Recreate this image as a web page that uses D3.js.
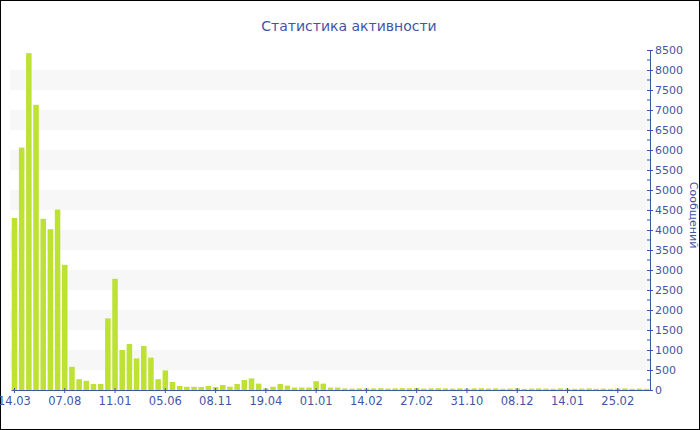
<!DOCTYPE html>
<html>
<head>
<meta charset="utf-8">
<script src="https://cdn.jsdelivr.net/npm/d3@7"></script>
<style>
  body { margin: 0; background: #fff; }
  text { font-family: "DejaVu Sans", Verdana, sans-serif; }
</style>
</head>
<body>
<script>
// bar values, one per period
const values = [4300, 6060, 8420, 7130, 4280, 4020, 4510, 3130, 580, 270,
  230, 150, 150, 1790, 2780, 1000, 1150, 790, 1100, 810,
  270, 490, 200, 100, 80, 80, 75, 100, 75, 125,
  83, 150, 250, 290, 160, 40, 80, 150, 110, 60,
  60, 60, 220, 160, 60, 60, 40, 35, 40, 40,
  40, 45, 35, 40, 45, 40, 50, 35, 40, 45,
  40, 35, 40, 30, 40, 45, 35, 40, 30, 35,
  40, 30, 35, 40, 35, 30, 40, 35, 30, 35,
  40, 30, 35, 30, 35, 40, 30, 35, 30];

// labelled periods: every 7th bar
const tickLabels = ["14.03", "07.08", "11.01", "05.06", "08.11", "19.04", "01.01",
  "14.02", "27.02", "31.10", "08.12", "14.01", "25.02"];
const tickStep = 7;

const yTicks = d3.range(0, 8501, 500);
const yMinor = d3.range(250, 8500, 500);

const title = "Статистика активности";
const yTitle = "Сообщений";

const width = 700, height = 430;
const blue = "#3f56a6";

const svg = d3.select("body").append("svg")
  .attr("width", width)
  .attr("height", height);

svg.append("rect")
  .attr("x", 0.5).attr("y", 0.5)
  .attr("width", width - 1).attr("height", height - 1)
  .attr("fill", "#fff").attr("stroke", "#000");

const x = d3.scaleBand()
  .domain(d3.range(values.length))
  .range([11, 650])
  .paddingInner(0.23)
  .paddingOuter(0.1);

const y = d3.scaleLinear()
  .domain([0, 8500])
  .range([390, 50]);

// alternating bands
svg.append("g").selectAll("rect")
  .data(d3.range(500, 8500, 1000))
  .enter().append("rect")
  .attr("x", 10)
  .attr("width", 640)
  .attr("y", d => y(d + 500))
  .attr("height", d => y(d) - y(d + 500))
  .attr("fill", "#f7f7f7");

svg.append("g").selectAll("rect")
  .data(values)
  .enter().append("rect")
  .attr("x", (d, i) => x(i))
  .attr("width", x.bandwidth())
  .attr("y", d => y(d))
  .attr("height", d => y(0) - y(d))
  .attr("fill", "#bde234");

// x axis
const xAxis = d3.axisBottom(x)
  .tickValues(tickLabels.map((t, k) => k * tickStep))
  .tickFormat(i => tickLabels[i / tickStep])
  .tickSize(3)
  .tickSizeOuter(0)
  .tickPadding(4);

const gx = svg.append("g")
  .attr("transform", "translate(0,390)")
  .call(xAxis);
gx.select(".domain").attr("stroke", blue);
gx.selectAll(".tick line").attr("stroke", blue).attr("y1", -2);
gx.selectAll(".tick text").attr("fill", blue).style("font-size", "11.5px");

// y axis on the right
const yAxis = d3.axisRight(y)
  .tickValues(yTicks)
  .tickFormat(d3.format("d"))
  .tickSize(3)
  .tickSizeOuter(0)
  .tickPadding(2);

const gy = svg.append("g")
  .attr("transform", "translate(650,0)")
  .call(yAxis);
gy.select(".domain").attr("stroke", blue);
gy.selectAll(".tick line").attr("stroke", blue).attr("x1", -3).attr("x2", 3);
gy.selectAll(".tick text").attr("fill", blue).style("font-size", "11px");

gy.selectAll(".minor")
  .data(yMinor)
  .enter().append("line")
  .attr("class", "minor")
  .attr("x1", -3).attr("x2", 0)
  .attr("y1", d => y(d)).attr("y2", d => y(d))
  .attr("stroke", blue);

svg.append("text")
  .attr("x", 349).attr("y", 31)
  .attr("text-anchor", "middle")
  .attr("fill", blue)
  .style("font-size", "14px")
  .text(title);

svg.append("text")
  .attr("transform", "translate(690,215) rotate(90)")
  .attr("text-anchor", "middle")
  .attr("fill", blue)
  .style("font-size", "11px")
  .text(yTitle);
</script>
</body>
</html>
